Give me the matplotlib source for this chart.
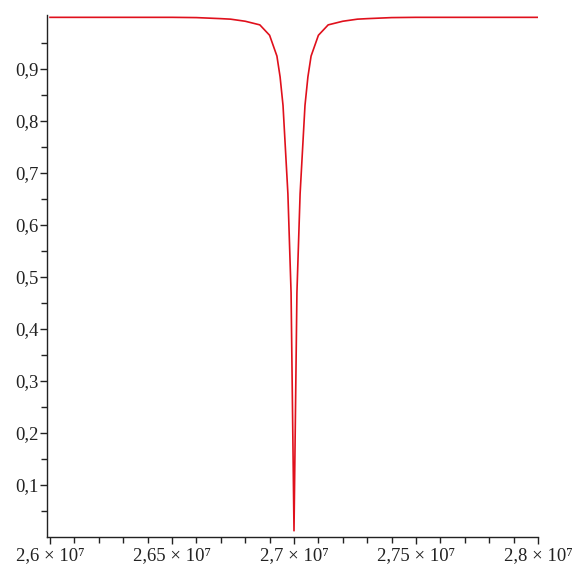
import matplotlib
matplotlib.use("Agg")
import matplotlib.pyplot as plt
from matplotlib.ticker import FixedLocator, MultipleLocator

plt.rcParams['font.family'] = ['Liberation Serif', 'DejaVu Serif']

# Curve samples
x_values = [26000000, 26500000, 26600000, 26700000, 26740000, 26800000, 26860000,
            26900000, 26930000, 26943000, 26955000, 26975000, 26988000, 27000000,
            27012000, 27025000, 27045000, 27057000, 27070000, 27100000, 27140000,
            27200000, 27260000, 27300000, 27400000, 27500000, 28000000]
y_values = [0.9995, 0.9995, 0.999, 0.997, 0.996, 0.992, 0.985,
            0.965, 0.925, 0.885, 0.83, 0.66, 0.47, 0.012,
            0.47, 0.66, 0.83, 0.885, 0.925, 0.965, 0.985,
            0.992, 0.996, 0.997, 0.999, 0.9995, 0.9995]

x_ticks = [26000000, 26500000, 27000000, 27500000, 28000000]
x_tick_labels = ["2,6", "2,65", "2,7", "2,75", "2,8"]
y_ticks = [0.1, 0.2, 0.3, 0.4, 0.5, 0.6, 0.7, 0.8, 0.9]
y_tick_labels = ["0,1", "0,2", "0,3", "0,4", "0,5", "0,6", "0,7", "0,8", "0,9"]

fig = plt.figure(figsize=(5.79, 5.65), dpi=100)
ax = fig.add_axes([47/579, 28/565, (538-47)/579, (537-15)/565])

ax.plot(x_values, y_values, color='#e0101c', linewidth=1.2, solid_joinstyle='round')

ax.set_xlim(25987700, 28000000)
ax.set_ylim(0.0, 1.004)

ax.spines['top'].set_visible(False)
ax.spines['right'].set_visible(False)
for s in ('left', 'bottom'):
    ax.spines[s].set_color('#222222')
    ax.spines[s].set_linewidth(1.0)

ax.xaxis.set_major_locator(FixedLocator(x_ticks))
ax.set_xticklabels([lab + " \u00d7 10\u2077" for lab in x_tick_labels])
ax.xaxis.set_minor_locator(MultipleLocator(100000))
ax.yaxis.set_major_locator(FixedLocator(y_ticks))
ax.set_yticklabels(y_tick_labels)
ax.yaxis.set_minor_locator(FixedLocator([0.05, 0.15, 0.25, 0.35, 0.45, 0.55, 0.65, 0.75, 0.85, 0.95]))

ax.tick_params(axis='both', which='major', direction='out', length=5, width=1.0,
               color='#222222', labelsize=13.5, labelcolor='#222222', pad=1)
ax.tick_params(axis='both', which='minor', direction='out', length=4, width=1.0,
               color='#222222')
ax.tick_params(axis='x', which='major', pad=2)

fig.savefig("out.png", dpi=100, facecolor='white')
